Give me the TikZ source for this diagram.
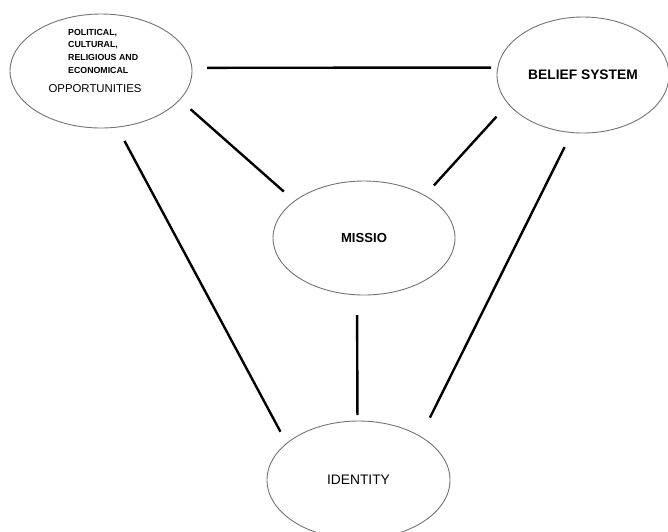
\documentclass[tikz,border=0pt]{standalone}
\usepackage{fontspec}
\setmainfont{Liberation Sans}
\usetikzlibrary{shapes.geometric}

\begin{document}
\begin{tikzpicture}[x=1pt,y=-1pt,
  bubble/.style={ellipse,draw=black!55,line width=0.9pt,inner sep=0pt,outer sep=0pt},
  link/.style={line width=2.4pt}]
  \useasboundingbox (0,0) rectangle (668,531);
  % ellipses
  \node[bubble,minimum width=182pt,minimum height=114pt] (opp) at (101,71) {};
  \node[anchor=west,align=left,inner sep=0pt,font=\fontsize{8.8}{12.6}\selectfont\bfseries] (oppareas) at (68,51.2)
    {POLITICAL,\\CULTURAL,\\RELIGIOUS AND\\ECONOMICAL};
  \node[inner sep=0pt,font=\fontsize{11.4}{13}\selectfont] (oppname) at (95,89) {OPPORTUNITIES};
  \node[bubble,minimum width=172pt,minimum height=116pt,font=\fontsize{13.8}{16}\selectfont\bfseries] (belief) at (583,75) {BELIEF SYSTEM};
  \node[bubble,minimum width=182pt,minimum height=114pt,font=\fontsize{13.1}{16}\selectfont\bfseries] (missio) at (364,238) {MISSIO};
  \node[bubble,minimum width=183pt,minimum height=118pt,font=\fontsize{13.8}{16}\selectfont] (identity) at (358.5,480) {IDENTITY};
  % links
  \draw[link,shorten <=15.2pt,shorten >=6.7pt] (opp.2.2) -- (belief.175);
  \draw[link,shorten <=14.6pt,shorten >=14.5pt] (opp.-20.6) -- (missio.152.6);
  \draw[link,shorten <=17.5pt,shorten >=13.6pt] (belief.-159.5) -- (missio.35.7);
  \draw[link,shorten <=15.7pt,shorten >=13.3pt] (opp.-74.5) -- (identity.153.3);
  \draw[link,shorten <=20.2pt,shorten >=6pt] (missio.-97) -- (identity.91.5);
  \draw[link,shorten <=16.3pt,shorten >=21.2pt] (belief.-101.5) -- (identity.35.8);
\end{tikzpicture}
\end{document}
